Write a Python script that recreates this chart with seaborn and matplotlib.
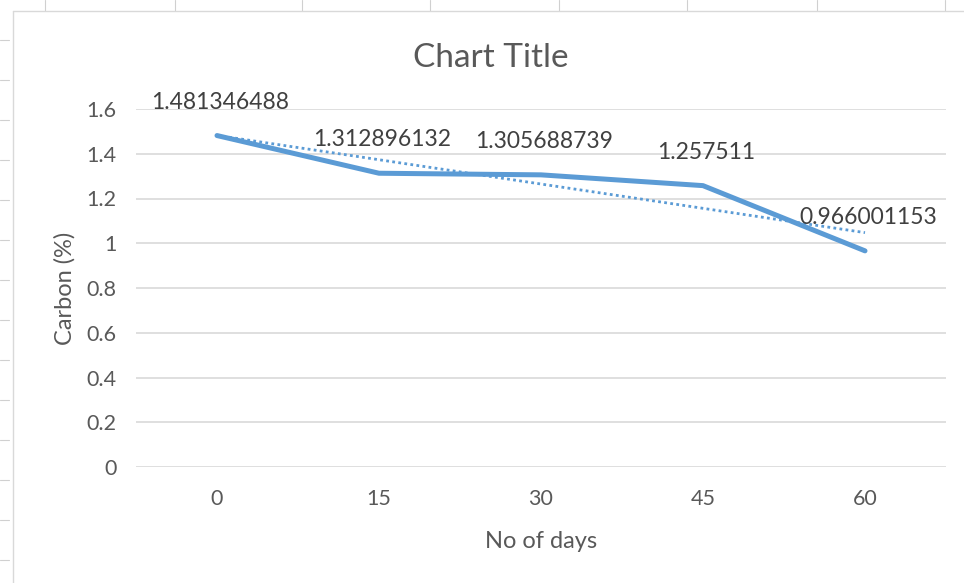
import numpy as np
import pandas as pd
import matplotlib
matplotlib.use("Agg")
import matplotlib.pyplot as plt
from matplotlib.lines import Line2D
import seaborn as sns

days = ["0", "15", "30", "45", "60"]
carbon = [1.481346488, 1.312896132, 1.305688739, 1.257511, 0.966001153]
labels = ["1.481346488", "1.312896132", "1.305688739", "1.257511", "0.966001153"]
yticks = [0, 0.2, 0.4, 0.6, 0.8, 1, 1.2, 1.4, 1.6]
ytick_labels = ["0", "0.2", "0.4", "0.6", "0.8", "1", "1.2", "1.4", "1.6"]

sns.set_theme(style="white")
plt.rcParams["font.family"] = ["Lato", "DejaVu Sans"]

LINE = "#5B9BD5"
TXT = "#595959"

fig = plt.figure(figsize=(9.64, 5.83), dpi=100)
W, H = 964, 583

# spreadsheet cell borders around the chart
for xv in [45, 175, 302, 430, 559, 687, 817, 945]:
    fig.add_artist(Line2D([xv / W, xv / W], [1, 1 - 11 / H], color="#d0d0d0", lw=0.8))
for yv in range(40, 583, 40):
    fig.add_artist(Line2D([0, 9 / W], [1 - yv / H, 1 - yv / H], color="#d0d0d0", lw=0.8))
# chart area border
fig.add_artist(Line2D([13 / W, 13 / W], [1 - 11 / H, 0], color="#d9d9d9", lw=1.0))
fig.add_artist(Line2D([13 / W, 1], [1 - 11 / H, 1 - 11 / H], color="#d9d9d9", lw=1.0))

ax = fig.add_axes([136 / W, 1 - 467 / H, (946 - 136) / W, (467 - 109) / H])

df = pd.DataFrame({"days": days, "carbon": carbon})
sns.lineplot(data=df, x="days", y="carbon", ax=ax, color=LINE, lw=3.6,
             solid_capstyle="round", sort=False)

# linear trendline
xpos = np.arange(len(days))
coef = np.polyfit(xpos + 1, carbon, 1)
trend = np.polyval(coef, xpos + 1)
ax.plot(xpos, trend, color=LINE, lw=2.0, ls=(0, (1, 1.2)))

for i, (v, lab) in enumerate(zip(carbon, labels)):
    ax.annotate(lab, (i, v), xytext=(2, 24), textcoords="offset points",
                ha="center", va="center", fontsize=16.5, color="#404040")

ax.set_xlim(-0.5, len(days) - 0.5)
ax.set_ylim(0, 1.6)
ax.set_yticks(yticks)
ax.set_yticklabels(ytick_labels)
ax.grid(axis="y", color="#d9d9d9", lw=1.2)
ax.grid(axis="x", visible=False)
for s in ax.spines.values():
    s.set_visible(False)
ax.tick_params(axis="both", length=0, labelsize=15.5, colors=TXT)
ax.tick_params(axis="y", pad=14)
ax.tick_params(axis="x", pad=16)
ax.set_xlabel("No of days", fontsize=17, color=TXT)
ax.set_ylabel("Carbon (%)", fontsize=17, color=TXT)
ax.xaxis.set_label_coords(0.5, -(541 - 467) / 358)
ax.xaxis.label.set_va("center")
ax.yaxis.set_label_coords((65 - 136) / 810, 0.5)
ax.yaxis.label.set_va("center")
ax.set_facecolor("white")

fig.text(491 / W, 1 - 58 / H, "Chart Title", ha="center", va="center",
         fontsize=24, color=TXT)

fig.savefig("out.png", dpi=100, facecolor="white")
